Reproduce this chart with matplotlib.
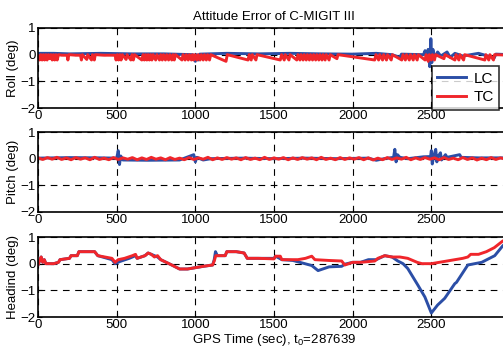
import numpy as np
import matplotlib
matplotlib.use("Agg")
import matplotlib.pyplot as plt

plt.rcParams['font.family'] = ['Liberation Sans', 'DejaVu Sans']

## Data ##
# time (sec), value (deg)
roll_lc = np.array([
    [0, 0.05], [100, 0.05], [200, 0.03], [400, 0.05], [600, 0.03], [800, 0.03],
    [985, 0.0], [992, -0.15], [1000, -0.25], [1008, 0.0], [1018, -0.2], [1028, 0.02],
    [1200, 0.05], [1400, 0.03], [1600, 0.05], [1800, 0.03], [2000, 0.02],
    [2150, 0.05], [2250, 0.0], [2300, -0.1], [2310, 0.02], [2450, 0.0],
    [2460, 0.15], [2470, -0.1], [2480, 0.2], [2490, -0.45], [2497, 0.6],
    [2503, -0.3], [2510, 0.2], [2520, -0.1], [2540, 0.1], [2560, -0.05],
    [2600, 0.1], [2620, -0.1], [2650, 0.05], [2700, -0.05], [2800, 0.05],
    [2900, -0.12], [2910, 0.02], [3000, 0.0]])

roll_tc = np.array([
    [0, -0.05], [10, -0.2], [18, 0.0], [26, -0.2], [34, 0.0], [42, -0.2], [50, 0.0],
    [58, -0.2], [66, 0.0], [74, -0.15], [82, 0.0], [90, -0.2], [98, 0.0], [106, -0.2],
    [114, 0.0], [122, -0.2], [130, 0.0], [150, -0.02], [185, -0.02], [190, -0.2],
    [196, 0.0], [240, -0.02], [270, -0.02], [276, -0.2], [282, 0.0], [310, -0.18],
    [316, 0.0], [340, -0.2], [346, 0.0], [358, -0.2], [364, 0.0], [420, -0.02],
    [490, -0.02], [496, -0.2], [504, 0.0], [512, -0.2], [520, 0.0], [528, -0.2],
    [536, 0.0], [560, -0.18], [566, 0.0], [590, -0.2], [598, 0.0], [606, -0.2],
    [614, 0.0], [660, -0.2], [668, 0.0], [676, -0.2], [684, 0.0], [692, -0.2],
    [700, 0.0], [708, -0.2], [716, 0.0], [724, -0.2], [732, 0.0], [748, -0.2],
    [756, 0.0], [772, -0.2], [780, 0.0], [790, -0.2], [798, 0.0], [810, -0.2],
    [818, 0.0], [830, -0.2], [838, 0.0], [850, -0.2], [858, 0.0], [866, -0.2],
    [874, 0.0], [915, -0.2], [922, 0.0], [935, -0.2], [942, 0.0], [955, -0.2],
    [962, 0.0], [975, -0.2], [982, 0.0], [990, -0.2], [998, 0.0], [1010, -0.2],
    [1018, 0.0], [1030, -0.2], [1038, 0.0], [1050, -0.2], [1058, 0.0], [1070, -0.2],
    [1078, 0.0], [1090, -0.2], [1098, 0.0], [1195, -0.25], [1203, 0.0],
    [1335, -0.2], [1342, 0.0], [1355, -0.2], [1362, 0.0], [1385, -0.2], [1392, 0.0],
    [1540, -0.2], [1548, 0.0], [1565, -0.2], [1572, 0.0], [1595, -0.2], [1602, 0.0],
    [1645, -0.2], [1652, 0.0], [1665, -0.2], [1672, 0.0], [1685, -0.2], [1692, 0.0],
    [1705, -0.2], [1712, 0.0], [1725, -0.2], [1732, 0.0], [1745, -0.2], [1752, 0.0],
    [1765, -0.2], [1772, 0.0], [1785, -0.2], [1792, 0.0], [1805, -0.2], [1812, 0.0],
    [1825, -0.2], [1832, 0.0], [1850, -0.2], [1857, 0.0], [1900, -0.15], [1907, 0.0],
    [2140, -0.2], [2148, 0.0], [2165, -0.2], [2172, 0.0], [2190, -0.2], [2197, 0.0],
    [2215, -0.2], [2222, 0.0], [2245, -0.2], [2252, 0.0], [2312, -0.2], [2320, 0.0],
    [2335, -0.2], [2342, 0.0], [2360, -0.2], [2367, 0.0], [2385, -0.2], [2392, 0.0],
    [2410, -0.2], [2417, 0.0], [2460, -0.2], [2467, 0.0], [2480, -0.25], [2487, 0.0],
    [2500, -0.2], [2507, 0.0], [2520, -0.2], [2527, 0.0], [2580, -0.15], [2587, 0.0],
    [2650, -0.2], [2657, 0.0], [2675, -0.2], [2682, 0.0], [2705, -0.2], [2712, 0.0],
    [2840, -0.2], [2847, 0.0], [2865, -0.2], [2872, 0.0], [2895, -0.2], [2902, 0.0],
    [3000, -0.02]])

pitch_lc = np.array([
    [0, 0.02], [200, 0.04], [400, 0.03], [500, 0.02], [510, 0.3], [518, -0.22],
    [526, 0.1], [540, -0.05], [700, -0.06], [900, -0.05], [990, 0.15], [1000, -0.12],
    [1010, 0.05], [1050, -0.05], [1100, 0.0], [1300, 0.02], [1500, 0.0],
    [1700, 0.02], [1900, 0.0], [2100, 0.02], [2150, -0.06], [2200, 0.0],
    [2260, 0.05], [2268, 0.35], [2276, -0.12], [2285, 0.15], [2300, 0.05],
    [2350, 0.0], [2450, 0.07], [2495, 0.08], [2500, 0.3], [2506, -0.2], [2515, 0.1],
    [2528, 0.35], [2535, -0.12], [2545, 0.1], [2558, 0.22], [2565, -0.05],
    [2590, 0.15], [2600, 0.05], [2680, 0.15], [2690, 0.05], [2800, 0.03], [3000, 0.03]])

pitch_tc_t = np.arange(0, 3001, 30)
pitch_tc_v = [
    0.03, -0.03, 0.04, -0.02, 0.05, -0.03, 0.03, -0.04, 0.04, -0.02,
    0.03, -0.04, 0.05, -0.03, 0.02, -0.04, 0.04, -0.03, 0.03, -0.02,
    0.04, -0.04, 0.03, -0.03, 0.05, -0.02, 0.03, -0.04, 0.04, -0.03,
    0.02, -0.04, 0.04, -0.03, 0.03, -0.02, 0.05, -0.04, 0.03, -0.03,
    0.04, -0.02, 0.03, -0.04, 0.04, -0.03, 0.02, -0.04, 0.05, -0.03,
    0.03, -0.02, 0.04, -0.04, 0.03, -0.03, 0.04, -0.02, 0.03, -0.04,
    0.05, -0.03, 0.02, -0.04, 0.04, -0.03, 0.03, -0.02, 0.04, -0.04,
    0.03, -0.05, 0.02, -0.04, 0.04, -0.03, 0.03, -0.02, 0.05, -0.04,
    0.03, -0.03, 0.04, -0.02, 0.03, -0.04, 0.04, -0.03, 0.02, -0.04,
    0.04, -0.03, 0.03, -0.05, 0.02, -0.04, 0.04, -0.03, 0.03, -0.02,
    0.03]

heading_lc = np.array([
    [0, -0.05], [10, 0.1], [20, 0.25], [30, 0.05], [40, 0.15], [50, 0.0], [100, 0.0],
    [130, 0.05], [140, 0.15], [200, 0.2], [210, 0.3], [250, 0.3], [260, 0.45],
    [300, 0.45], [360, 0.45], [380, 0.3], [470, 0.15], [490, 0.0], [520, 0.08],
    [580, 0.2], [620, 0.3], [630, 0.2], [680, 0.3], [700, 0.4], [720, 0.35],
    [760, 0.25], [780, 0.15], [850, -0.05], [900, -0.2], [950, -0.2], [1000, -0.15],
    [1050, -0.1], [1110, -0.05], [1120, 0.15], [1128, 0.45], [1140, 0.3],
    [1190, 0.3], [1200, 0.45], [1260, 0.45], [1310, 0.4], [1330, 0.2], [1400, 0.2],
    [1500, 0.2], [1510, 0.28], [1550, 0.15], [1620, 0.12], [1696, 0.0],
    [1740, -0.07], [1780, -0.26], [1850, -0.12], [1930, -0.1], [1950, -0.02],
    [2000, 0.05], [2050, 0.05], [2100, 0.15], [2150, 0.15], [2204, 0.3],
    [2250, 0.25], [2287, 0.1], [2320, 0.0], [2350, -0.18], [2414, -0.8],
    [2459, -1.25], [2500, -1.85], [2540, -1.55], [2585, -1.3], [2649, -0.75],
    [2660, -0.7], [2732, -0.05], [2820, 0.05], [2903, 0.3], [2954, 0.67],
    [3000, 0.9]])

heading_tc = np.array([
    [0, -0.05], [10, 0.1], [20, 0.25], [30, 0.05], [40, 0.15], [50, 0.0], [100, 0.0],
    [130, 0.05], [140, 0.15], [200, 0.2], [210, 0.3], [250, 0.3], [260, 0.45],
    [300, 0.45], [360, 0.45], [380, 0.3], [470, 0.2], [490, 0.05], [510, 0.15],
    [550, 0.2], [600, 0.3], [620, 0.35], [630, 0.2], [680, 0.3], [700, 0.4],
    [720, 0.35], [740, 0.25], [760, 0.3], [780, 0.15], [850, -0.05], [900, -0.2],
    [950, -0.2], [1000, -0.15], [1050, -0.1], [1110, -0.05], [1120, 0.1],
    [1130, 0.3], [1190, 0.3], [1200, 0.45], [1260, 0.45], [1310, 0.4], [1330, 0.2],
    [1400, 0.2], [1500, 0.18], [1510, 0.28], [1540, 0.28], [1550, 0.15],
    [1652, 0.15], [1700, 0.2], [1740, 0.28], [1760, 0.15], [1850, 0.12],
    [1930, 0.1], [1950, -0.05], [2000, 0.05], [2050, 0.05], [2141, 0.1],
    [2160, 0.2], [2204, 0.3], [2250, 0.25], [2300, 0.25], [2350, 0.2],
    [2370, 0.15], [2410, 0.05], [2440, 0.0], [2500, 0.0], [2550, 0.05],
    [2600, 0.1], [2650, 0.15], [2700, 0.2], [2732, 0.25], [2750, 0.35],
    [2800, 0.35], [2850, 0.45], [2900, 0.6], [2954, 0.85], [3000, 0.95]])

ylabels = ['Roll (deg)', 'Pitch (deg)', 'Headind (deg)']
x_ticks = [0, 500, 1000, 1500, 2000, 2500]
y_ticks = [-2, -1, 0, 1]

## Plot ##
blue = '#2b4ea6'
red = '#f0262b'

fig = plt.figure(figsize=(5.03, 3.53), dpi=100)
left = 38 / 503
width = 472 / 503
h = 80 / 353
bottoms = [1 - 108 / 353, 1 - 212 / 353, 1 - 317 / 353]
axes = [fig.add_axes([left, b, width, h]) for b in bottoms]

lw = 2.1
axes[0].plot(roll_lc[:, 0], roll_lc[:, 1], color=blue, lw=lw, label='LC')
axes[0].plot(roll_tc[:, 0], roll_tc[:, 1], color=red, lw=lw, label='TC')
axes[1].plot(pitch_lc[:, 0], pitch_lc[:, 1], color=blue, lw=lw)
axes[1].plot(pitch_tc_t, pitch_tc_v, color=red, lw=lw)
axes[2].plot(heading_lc[:, 0], heading_lc[:, 1], color=blue, lw=lw)
axes[2].plot(heading_tc[:, 0], heading_tc[:, 1], color=red, lw=lw)

for ax, lab in zip(axes, ylabels):
    ax.set_xlim(0, 3000)
    ax.set_ylim(-2, 1)
    ax.set_xticks(x_ticks)
    ax.set_yticks(y_ticks)
    ax.tick_params(direction='in', labelsize=9.5, length=3, width=0.8, pad=1.5)
    ax.grid(True, color='black', linestyle=(0, (6, 5)), linewidth=0.8)
    ax.set_axisbelow(True)
    ax.set_ylabel(lab, fontsize=9.5, labelpad=1)
    for s in ax.spines.values():
        s.set_linewidth(1.2)

axes[0].set_title('Attitude Error of C-MIGIT III', fontsize=9.5, pad=6)
axes[2].set_xlabel(r'GPS Time (sec), t$\mathregular{_0}$=287639', fontsize=9.5, labelpad=1)

leg = axes[0].legend(loc='upper left', bbox_to_anchor=(0.835, 0.52), fontsize=11,
                     frameon=True, fancybox=False, handlelength=1.9,
                     borderpad=0.35, labelspacing=0.3, handletextpad=0.45,
                     borderaxespad=0)
leg.get_frame().set_edgecolor('black')
leg.get_frame().set_linewidth(1.2)
leg.set_zorder(10)

fig.savefig('out.png', dpi=100)
